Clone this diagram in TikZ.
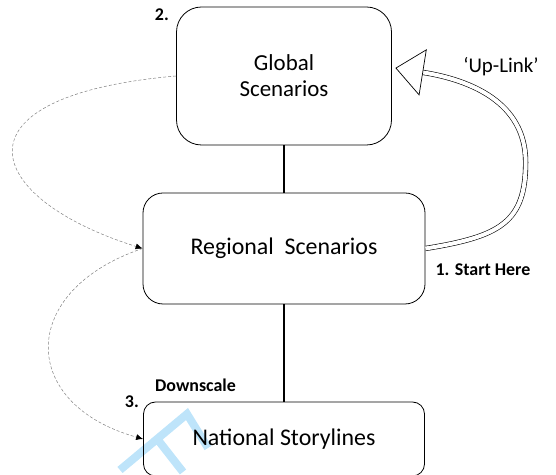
\documentclass[tikz,border=0pt]{standalone}
\usepackage{fontspec}
\setmainfont{Carlito}
\usetikzlibrary{arrows.meta,calc,positioning}

\tikzset{
    box/.style={draw, line width=0.8bp, align=center, inner sep=0pt},
    spine/.style={line width=2.6bp},
    feedback/.style={gray, line width=0.5bp, dash pattern=on 3bp off 2bp,
        -{Latex[length=7bp, width=6bp, black]}},
    uplink/.style={double, double distance=4bp, line width=0.6bp,
        -{Triangle[open, length=28bp, width=47bp, line width=0.7bp, fill=white]}},
    tag/.style={font=\bfseries\fontsize{18}{20}\selectfont, inner sep=0pt},
    watermark/.style={line width=8bp, color={rgb,255:red,190;green,228;blue,250}}
}

\begin{document}
\begin{tikzpicture}[x=1bp, y=1bp]
    \useasboundingbox (0, 0) rectangle (556, 475);

    \draw [watermark] (120, 5) -- (187, 61) -- (208, 27) (158, 35) -- (183, 3);

    \node [box, rounded corners=25bp, minimum width=215bp, minimum height=138bp,
        font=\fontsize{23}{26}\selectfont] (glob) at (284, 399) {Global\\Scenarios};
    \node [box, rounded corners=20bp, minimum width=282bp, minimum height=111bp,
        font=\fontsize{24}{28}\selectfont] (reg) at (284, 226.5) {Regional\ \ Scenarios};
    \node [box, rounded corners=12bp, minimum width=281bp, minimum height=74bp,
        font=\fontsize{24}{28}\selectfont] (nat) at (284, 36) {National Storylines};

    \draw [spine] (glob) -- (reg);
    \draw [spine] (reg) -- (nat);

    \draw [feedback] (glob.west) .. controls +(-230, -20) and +(-160, 50) .. (reg.west);
    \draw [feedback] (reg.west) .. controls +(-125, -42) and +(-125, 35) .. (nat.west);
    \draw [uplink] (reg.east) .. controls +(75, 12) and +(0, -60)
        .. ($(reg.east)!0.5!(glob.east) + (117, 0)$)
        .. controls +(0, 60) and +(75, -12) .. ($(glob.east) + (3.5, 8)$);

    \node [tag, anchor=east] (two) at (169, 460) {2.};
    \node [tag, anchor=east] (three) at (139, 73) {3.};
    \node [tag] (down) at (195.5, 90) {Downscale};
    \node [tag] (start) at (483, 205) {1. Start Here};
    \node [font=\fontsize{21}{24}\selectfont] (up) at (501, 408) {‘Up-Link’};
\end{tikzpicture}
\end{document}
